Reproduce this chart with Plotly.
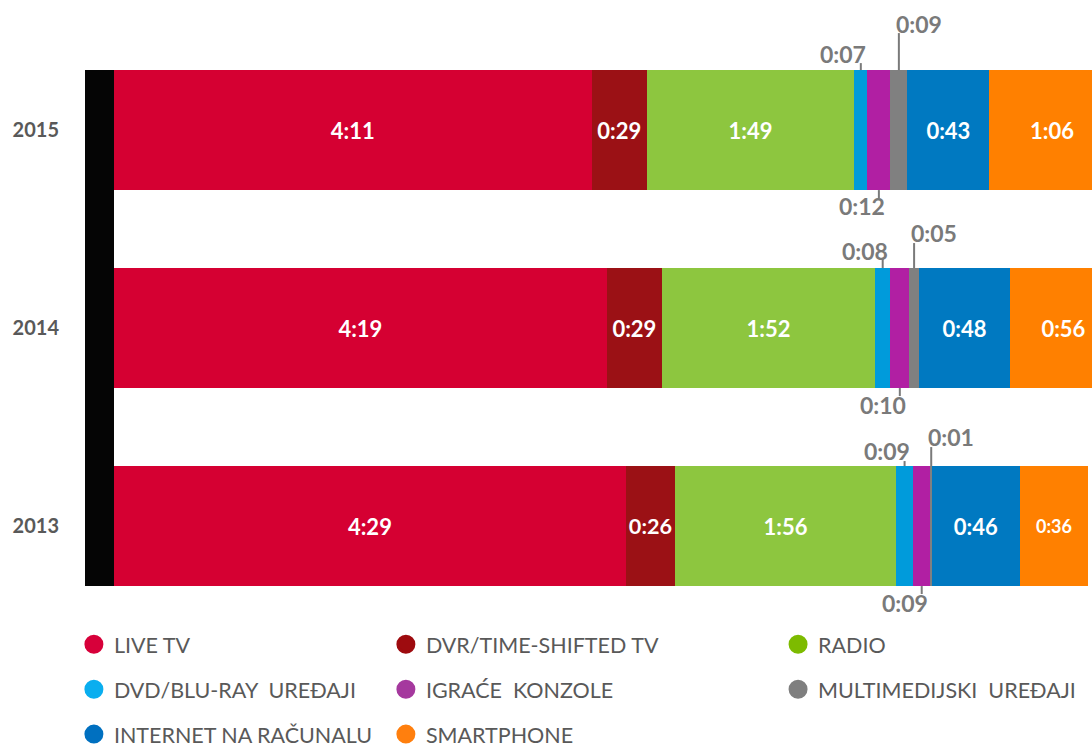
import plotly.graph_objects as go

# ---------------- data (minutes per day) ----------------
years = [2015, 2014, 2013]
categories = ["LIVE TV", "DVR/TIME-SHIFTED TV", "RADIO", "DVD/BLU-RAY  UREĐAJI",
              "IGRAĆE  KONZOLE", "MULTIMEDIJSKI  UREĐAJI", "INTERNET NA RAČUNALU", "SMARTPHONE"]
live_tv = [251, 259, 269]
dvr_tv = [29, 29, 26]
radio = [109, 112, 116]
dvd = [7, 8, 9]
konzole = [12, 10, 9]
multimedija = [9, 5, 1]
internet = [43, 48, 46]
smartphone = [66, 56, 36]

series = [live_tv, dvr_tv, radio, dvd, konzole, multimedija, internet, smartphone]
colors = ["#D50032", "#9B1115", "#8DC63F", "#009BDB", "#B11FA3", "#808080", "#0079C1", "#FF8000"]
legend_colors = ["#D7003A", "#9E0B0F", "#7DBB00", "#0AAEEF", "#A5399E", "#7F7F7F", "#0070C0", "#FF7F0E"]
inside_label = [True, True, True, False, False, False, True, True]


def fmt(m):
    return f"{m // 60}:{m % 60:02d}"


BAR_W = 0.606
FONT = "Lato, 'Open Sans', sans-serif"
GREY = "#7A7A7A"

fig = go.Figure()

for name, vals, col, show in zip(categories, series, colors, inside_label):
    sizes = [22] * len(vals)
    if name == "SMARTPHONE":
        sizes = [22, 22, 18]
    fig.add_trace(go.Bar(
        y=years, x=vals, orientation="h", name=name,
        marker=dict(color=col, line=dict(width=0)),
        text=[fmt(v) for v in vals] if show else None,
        textposition="inside" if show else "none",
        insidetextanchor="middle", textangle=0,
        insidetextfont=dict(family=FONT, size=sizes, color="white", weight="bold"),
        showlegend=False, hoverinfo="skip", width=BAR_W,
    ))

# legend entries (round markers), three columns
legend_of = ["legend", "legend2", "legend3", "legend", "legend2", "legend3", "legend", "legend2"]
for name, col, lg in zip(categories, legend_colors, legend_of):
    fig.add_trace(go.Scatter(
        x=[None], y=[None], mode="markers", name=name,
        marker=dict(symbol="circle", size=16, color=col, line=dict(color=col, width=3)),
        legend=lg, legendgroup=name, showlegend=True, hoverinfo="skip",
    ))

# small-segment labels with leader lines
shapes = []
annotations = []
# (series index, side, x-shift px, text offset px per year, line length px per year)
small_specs = [
    (3, "top", -18, [16, 17, 15], [7, 9, 5]),
    (5, "top", 20, [46, 35, 29], [37, 25, 19]),
    (4, "bottom", -17, [16, 17, 17], [8, 8, 8]),
]
for idx, side, xs, toff, llen in small_specs:
    for i, yr in enumerate(years):
        start = sum(series[k][i] for k in range(idx))
        xc = start + series[idx][i] / 2
        if side == "top":
            ya = yr + BAR_W / 2
            sgn = 1
        else:
            ya = yr - BAR_W / 2
            sgn = -1
        shapes.append(dict(type="line", xref="x", yref="y", ysizemode="pixel",
                           yanchor=ya, x0=xc, x1=xc, y0=0, y1=sgn * llen[i],
                           line=dict(color=GREY, width=2)))
        annotations.append(dict(x=xc, y=ya, xref="x", yref="y", text=fmt(series[idx][i]),
                                showarrow=False, xshift=xs, yshift=sgn * toff[i],
                                font=dict(family=FONT, size=23, color=GREY, weight="bold"),
                                xanchor="center", yanchor="middle"))

# black base bar left of the bars
PLOT_W = 978
shapes.append(dict(type="rect", xref="paper", yref="y", x0=-29 / PLOT_W, x1=0,
                   y0=min(years) - BAR_W / 2, y1=max(years) + BAR_W / 2,
                   fillcolor="#050505", line=dict(width=0), layer="above"))

legend_common = dict(orientation="v", xanchor="left", yanchor="top", bgcolor="rgba(0,0,0,0)",
                     font=dict(family=FONT, size=21.5, color="#595959"), tracegroupgap=14,
                     itemclick=False, itemdoubleclick=False)

fig.update_layout(
    width=1092, height=747,
    margin=dict(l=114, r=0, t=0, b=0, autoexpand=False),
    paper_bgcolor="white", plot_bgcolor="white",
    barmode="stack",
    xaxis=dict(range=[0, 514], visible=False, fixedrange=True),
    yaxis=dict(range=[min(years) - 1.116, max(years) + 0.657], tickvals=years,
               ticktext=[str(y) for y in years], showgrid=False, zeroline=False,
               showline=False, ticks="", ticklabelstandoff=54, fixedrange=True,
               tickfont=dict(family=FONT, size=20, color="#595959", weight="bold")),
    shapes=shapes, annotations=annotations,
    legend=dict(x=-0.041, y=0.165, **legend_common),
    legend2=dict(x=0.278, y=0.165, **legend_common),
    legend3=dict(x=0.679, y=0.165, **legend_common),
    showlegend=True,
)

fig.write_html("out.html", config={"displayModeBar": False},
               post_script="document.body.style.margin='0';")
